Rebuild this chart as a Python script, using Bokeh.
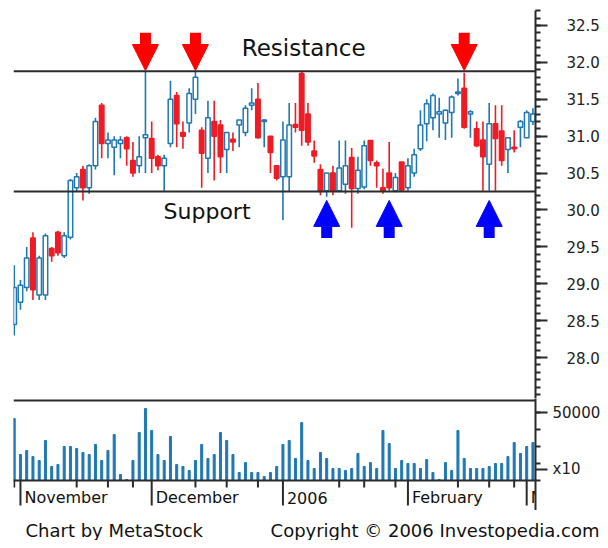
from bokeh.plotting import figure
from bokeh.layouts import column
from bokeh.models import (Range1d, FixedTicker, PrintfTickFormatter, Span, Label,
                          Arrow, NormalHead, ColumnDataSource)
from bokeh.core.properties import value
from bokeh.embed import file_html
from bokeh.resources import INLINE

# ---------------- data (trading-day index 0 = Oct 31 2005) ----------------
opens = [28.45, 28.75, 28.95, 29.62, 28.85, 28.85, 29.48, 29.70, 29.38, 29.63,
         30.30, 30.55, 30.30, 30.60, 31.42, 30.90, 30.85, 30.90, 30.98, 30.67,
         30.60, 30.98, 30.97, 30.72, 30.60, 30.90, 31.55, 31.05, 31.18, 31.50,
         31.08, 30.70, 31.20, 31.15, 30.82, 30.96, 31.15, 31.05, 31.42, 31.50,
         31.20, 31.00, 30.60, 30.45, 30.45, 31.16, 31.85, 31.30, 30.80, 30.55,
         30.26, 30.50, 30.26, 30.35, 30.71, 30.29, 30.31, 30.94, 30.64, 30.30,
         30.50, 30.26, 30.65, 30.30, 30.50, 30.83, 31.17, 31.25, 31.30, 31.18,
         31.32, 31.58, 31.65, 31.30, 31.10, 30.95, 30.62, 31.17, 31.07, 30.82,
         30.85, 31.12, 30.98, 31.20]
highs = [29.25, 29.05, 29.50, 29.70, 29.38, 29.68, 29.50, 29.72, 29.70, 30.42,
         30.50, 30.60, 30.62, 31.25, 31.45, 31.05, 31.00, 31.00, 31.00, 30.92,
         31.00, 31.88, 31.20, 30.75, 30.75, 31.75, 31.60, 31.20, 31.65, 31.88,
         31.12, 31.48, 31.48, 31.22, 31.05, 31.05, 31.22, 31.42, 31.65, 31.72,
         31.23, 31.00, 30.60, 31.20, 31.45, 31.45, 31.88, 31.45, 30.94, 30.62,
         30.50, 30.60, 30.94, 30.94, 30.84, 30.72, 30.94, 30.94, 30.67, 30.56,
         30.92, 30.50, 30.65, 30.70, 30.83, 31.35, 31.50, 31.58, 31.52, 31.36,
         31.55, 31.78, 31.86, 31.35, 31.20, 31.20, 31.45, 31.42, 31.42, 30.98,
         31.08, 31.22, 31.35, 31.38]
lows = [28.30, 28.65, 28.90, 28.78, 28.78, 28.78, 29.30, 29.38, 29.35, 29.60,
        30.25, 30.13, 30.22, 30.55, 30.70, 30.70, 30.47, 30.70, 30.60, 30.45,
        30.50, 30.50, 30.50, 30.54, 30.26, 30.85, 30.85, 30.83, 31.05, 31.30,
        30.30, 30.50, 30.40, 30.50, 30.50, 30.80, 30.85, 31.00, 31.35, 30.97,
        30.85, 30.50, 30.40, 29.86, 30.25, 31.05, 30.87, 30.87, 30.64, 30.20,
        30.18, 30.20, 30.24, 30.22, 29.76, 30.22, 30.28, 30.60, 30.30, 30.22,
        30.26, 30.24, 30.25, 30.26, 30.45, 30.80, 30.93, 31.08, 30.98, 30.95,
        30.98, 31.55, 31.10, 30.98, 30.85, 30.26, 30.26, 30.26, 30.60, 30.50,
        30.78, 30.85, 30.98, 31.15]
closes = [28.95, 28.98, 29.35, 28.92, 29.35, 29.65, 29.38, 29.42, 29.65, 30.40,
          30.45, 30.30, 30.60, 31.20, 30.90, 30.95, 30.95, 30.95, 30.83, 30.50,
          30.72, 31.02, 30.70, 30.60, 30.70, 31.50, 31.17, 31.00, 31.58, 31.80,
          30.77, 31.25, 31.00, 30.72, 31.05, 30.92, 31.22, 31.38, 31.45, 30.98,
          31.22, 30.78, 30.43, 30.95, 31.15, 31.12, 31.08, 30.92, 30.73, 30.25,
          30.50, 30.26, 30.57, 30.60, 30.29, 30.54, 30.87, 30.67, 30.60, 30.26,
          30.30, 30.44, 30.27, 30.60, 30.75, 31.15, 31.44, 31.55, 31.33, 31.35,
          31.53, 31.60, 31.12, 31.33, 30.87, 30.72, 31.17, 30.97, 30.67, 30.98,
          30.83, 31.20, 31.32, 31.30]
volumes = [45600, 19100, 22100, 17600, 14700, 29400, 10300, 11800, 25000, 25000,
           23500, 20600, 19100, 26500, 14700, 22100, 33800, 4400, 700, 14700,
           35300, 52900, 36800, 19100, 14700, 32400, 11800, 10300, 7400, 14700,
           26500, 16200, 19100, 35300, 29400, 19100, 5900, 13200, 5900, 5900,
           2900, 5900, 10300, 26500, 29400, 16200, 42600, 14700, 8800, 20600,
           16200, 8800, 8800, 7400, 8800, 19900, 10300, 13200, 8800, 36800,
           27200, 8800, 14700, 12500, 12500, 8800, 15400, 5900, 700, 13200,
           7400, 36800, 16200, 8800, 8800, 8800, 10300, 12500, 12500, 17600,
           27900, 19900, 25000, 27900]

month_starts = [1, 22, 43, 63, 82]
month_labels = ["November", "December", "2006", "February", "March"]
week_ticks = [0, 10, 15, 19, 29, 34, 39, 52, 56, 61, 71, 76, 80]
price_ticks = [28.0, 28.5, 29.0, 29.5, 30.0, 30.5, 31.0, 31.5, 32.0, 32.5]
volume_ticks = [8100, 50000]
volume_tick_labels = ["x10", "50000"]

resistance = 31.88
support = 30.25
resistance_touches = [21, 29, 72]
support_touches = [50, 60, 76]

footer_left = "Chart by MetaStock"
footer_right = "Copyright \u00a9 2006 Investopedia.com"

# ---------------- styling ----------------
BLUE = "#1f78b4"
RED = "#ee1c25"
DARK = "#2b2b2b"
TXT = "#111111"
FONT = "DejaVu Sans"
VPX = 735.3          # volume units per screen pixel in the volume panel

n = len(opens)
idx = list(range(n))
up = [c >= o for o, c in zip(opens, closes)]
src = ColumnDataSource(dict(
    x=idx, high=highs, low=lows,
    top=[max(o, c) for o, c in zip(opens, closes)],
    bottom=[min(o, c) for o, c in zip(opens, closes)],
    color=[BLUE if u else RED for u in up],
    fill=["white" if u else RED for u in up],
))

x_range = Range1d(-0.112, 83.41)


def style_axis(ax, tick_out, minor_out, standoff):
    ax.major_tick_out = tick_out
    ax.major_tick_in = 0
    ax.minor_tick_out = minor_out
    ax.minor_tick_in = 0
    ax.axis_line_color = DARK
    ax.axis_line_width = 2
    ax.major_tick_line_color = DARK
    ax.major_tick_line_width = 2
    ax.minor_tick_line_color = DARK
    ax.minor_tick_line_width = 2
    ax.major_label_text_font = FONT
    ax.major_label_text_font_size = "15px"
    ax.major_label_text_color = "#222222"
    ax.major_label_standoff = standoff


# ---------------- price panel ----------------
p = figure(width=600, height=398, frame_width=522, frame_height=388,
           x_range=x_range, y_range=Range1d(27.446, 32.703),
           output_backend="svg", toolbar_location=None,
           x_axis_location=None, y_axis_location="right",
           min_border_left=13, min_border_right=65, min_border_top=10,
           min_border_bottom=0, outline_line_color=None)
p.xgrid.visible = False
p.ygrid.visible = False

ax = p.yaxis[0]
ax.ticker = FixedTicker(ticks=price_ticks,
                        minor_ticks=[round(27.5 + 0.1 * k, 1) for k in range(53)])
ax.formatter = PrintfTickFormatter(format="%.1f")
style_axis(ax, 12, 5, 19)

p.segment(x0="x", y0="high", x1="x", y1="low", line_color="color",
          line_width=1.6, source=src)
p.vbar(x="x", width=0.72, top="top", bottom="bottom", fill_color="fill",
       line_color="color", line_width=1.5, source=src)

for lvl in (resistance, support):
    p.add_layout(Span(location=lvl, dimension="width", line_color=DARK,
                      line_width=2))

for xi in resistance_touches:
    p.add_layout(Arrow(end=NormalHead(size=26, fill_color="#ff0000",
                                      line_color="#ff0000"),
                       x_start=xi, y_start=resistance + 0.52,
                       x_end=xi, y_end=resistance + 0.01,
                       line_color="#ff0000", line_width=11))
for xi in support_touches:
    p.add_layout(Arrow(end=NormalHead(size=26, fill_color="#0000ff",
                                      line_color="#0000ff"),
                       x_start=xi, y_start=support - 0.63,
                       x_end=xi, y_end=support - 0.12,
                       line_color="#0000ff", line_width=11))

p.add_layout(Label(x=36.4, y=32.2, text="Resistance", text_font=FONT,
                   text_font_size="23px", text_baseline="middle",
                   text_color=TXT))
p.add_layout(Label(x=23.9, y=29.98, text="Support", text_font=FONT,
                   text_font_size="22px", text_baseline="middle",
                   text_color=TXT))

# ---------------- volume panel + time strip ----------------
v = figure(width=600, height=112, frame_width=522, frame_height=112,
           x_range=x_range, y_range=Range1d(-30 * VPX, 82 * VPX),
           output_backend="svg", toolbar_location=None,
           x_axis_location=None, y_axis_location="right",
           min_border_left=13, min_border_right=65, min_border_top=0,
           min_border_bottom=0, outline_line_color=None)
v.xgrid.visible = False
v.ygrid.visible = False

v.vbar(x=idx, top=volumes, width=0.32, color=BLUE)
v.add_layout(Span(location=80 * VPX, dimension="width", line_color=DARK,
                  line_width=2))
v.add_layout(Span(location=0, dimension="width", line_color=DARK,
                  line_width=2))

vy = v.yaxis[0]
vy.ticker = FixedTicker(ticks=volume_ticks,
                        minor_ticks=[0, 12500, 25000, 37500, 50000])
vy.major_label_overrides = dict(zip(volume_ticks, volume_tick_labels))
style_axis(vy, 12, 5, 5)

# time axis: month ticks (long), week ticks (short), month names
v.segment(x0=month_starts, y0=[0] * len(month_starts), x1=month_starts,
          y1=[-25 * VPX] * len(month_starts), line_color=DARK, line_width=2)
v.segment(x0=week_ticks, y0=[0] * len(week_ticks), x1=week_ticks,
          y1=[-7 * VPX] * len(week_ticks), line_color=DARK, line_width=2)
v.text(x=month_starts, y=[-17 * VPX] * len(month_starts), text=month_labels,
       x_offset=4, text_font=value(FONT), text_font_size="16px",
       text_baseline="middle", text_color=TXT)

# ---------------- footer ----------------
f = figure(width=600, height=30, frame_width=600, frame_height=30,
           x_range=Range1d(0, 600), y_range=Range1d(0, 30),
           output_backend="svg", toolbar_location=None,
           x_axis_location=None, y_axis_location=None,
           min_border_left=0, min_border_right=0, min_border_top=0,
           min_border_bottom=0, outline_line_color=None, frame_align=False)
f.xgrid.visible = False
f.ygrid.visible = False
f.text(x=[25], y=[10], text=[footer_left], text_font=value(FONT),
       text_font_size="18px", text_baseline="middle", text_color=TXT)
f.text(x=[599], y=[10], text=[footer_right], text_font=value(FONT),
       text_font_size="18px", text_baseline="middle", text_align="right",
       text_color=TXT)

layout = column(p, v, f)
open("out.html", "w").write(file_html(layout, INLINE))
